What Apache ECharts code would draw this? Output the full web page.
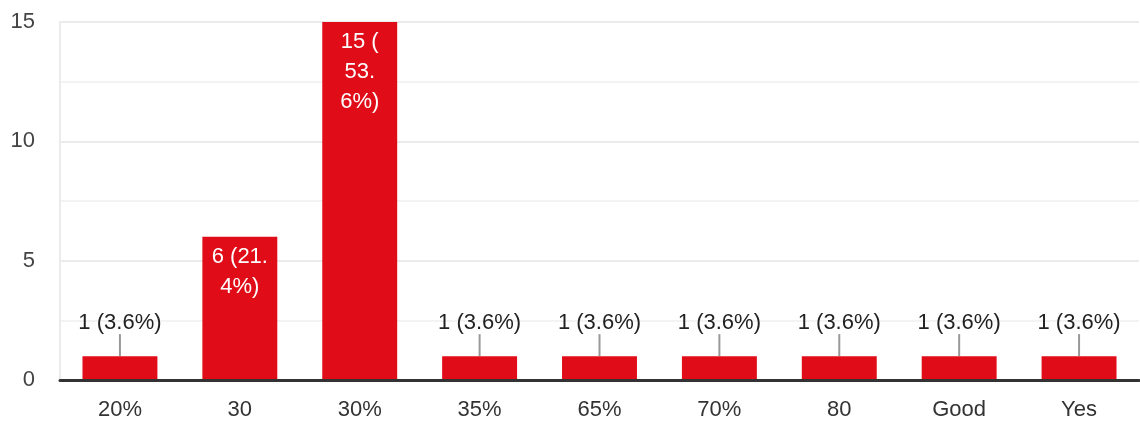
<!DOCTYPE html>
<html><head><meta charset="utf-8">
<script src="https://cdn.jsdelivr.net/npm/echarts@6/dist/echarts.min.js"></script>
<style>html,body{margin:0;padding:0;background:#fff}#c{width:1140px;height:421px}</style>
</head><body><div id="c"></div>
<script>
const categories = ['20%', '30', '30%', '35%', '65%', '70%', '80', 'Good', 'Yes'];
const counts = [1, 6, 15, 1, 1, 1, 1, 1, 1];
const yTicks = [0, 5, 10, 15];
// label line breaks as wrapped in the reference (inside bars)
const insideBreaks = {1: ['6 (21.', '4%)'], 2: ['15 (', '53.', '6%)']};

const total = counts.reduce((a, b) => a + b, 0);
const labelText = counts.map(v => v + ' (' + (v / total * 100).toFixed(1) + '%)');
const FONT = '"Liberation Sans", Arial, sans-serif';

const data = counts.map((v, i) => {
  const inside = insideBreaks[i];
  if (inside) {
    return {value: v, label: {position: 'insideTop', distance: 5, color: '#fff', lineHeight: 30,
      formatter: () => inside.join('\n')}, labelLine: {show: false}};
  }
  return {value: v};
});

const chart = echarts.init(document.getElementById('c'));
chart.setOption({
  animation: false,
  grid: {left: 60, right: 1, top: 22, bottom: 41, containLabel: false},
  xAxis: {
    type: 'category', data: categories,
    axisLine: {show: true, lineStyle: {color: '#333', width: 3}},
    axisTick: {show: false},
    axisLabel: {color: '#333', fontSize: 22, fontFamily: FONT, margin: 19},
    z: 10
  },
  yAxis: {
    type: 'value', min: 0, max: 15, interval: 5,
    axisLine: {show: true, lineStyle: {color: '#ebebeb', width: 2}},
    axisTick: {show: false},
    axisLabel: {color: '#444', fontSize: 22, fontFamily: FONT, margin: 25, padding: [5, 0, 0, 0],
      formatter: v => yTicks.includes(v) ? String(v) : ''},
    splitLine: {show: true, lineStyle: {color: '#ebebeb', width: 2}},
    minorTick: {show: false, splitNumber: 2},
    minorSplitLine: {show: true, lineStyle: {color: '#f3f3f3', width: 2}}
  },
  series: [{
    type: 'bar', data: data, barWidth: '62.5%',
    itemStyle: {color: '#e00c18'},
    label: {show: true, position: 'top', distance: 2, color: '#222', fontSize: 22, fontFamily: FONT,
      formatter: p => labelText[p.dataIndex]},
    labelLayout: p => (insideBreaks[p.dataIndex] ? {} : {dy: -20}),
    labelLine: {show: true, lineStyle: {color: '#999', width: 2}}
  }]
});
</script></body></html>
